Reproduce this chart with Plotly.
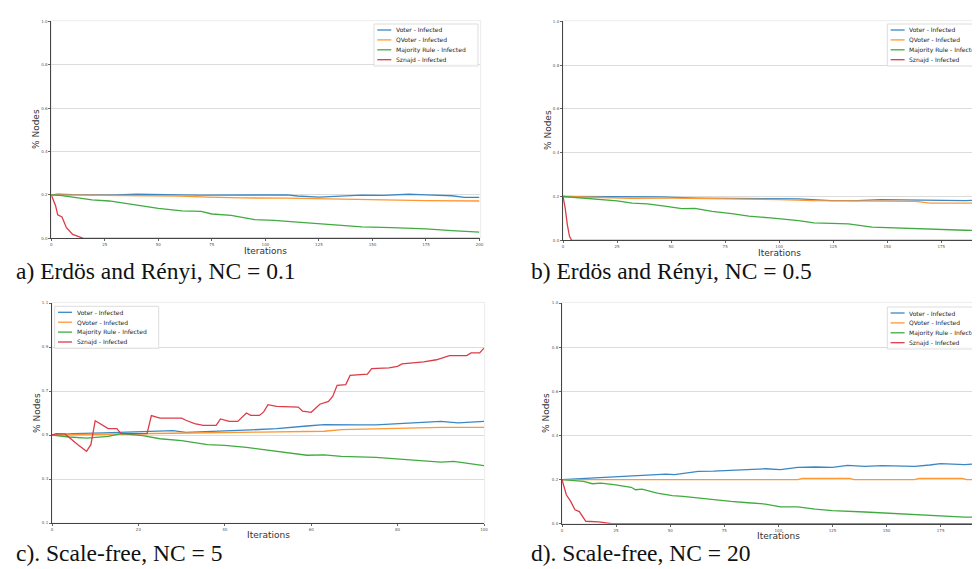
import plotly.graph_objects as go

W, H = 980, 569

SERIES = ["Voter - Infected", "QVoter - Infected", "Majority Rule - Infected", "Sznajd - Infected"]
COLORS = ["#3a87c4", "#ff9733", "#40ab40", "#dc3c48"]

# ---------------- panel a : Erdos-Renyi, NC = 0.1 ----------------
A_VOTER_X = [0, 3, 10, 20, 30, 40, 50, 60, 70, 80, 90, 100, 110, 115, 125, 135, 145, 155, 167, 175, 187, 193, 200]
A_VOTER_Y = [0.200, 0.203, 0.201, 0.199, 0.200, 0.203, 0.200, 0.200, 0.199, 0.200, 0.200, 0.199, 0.200, 0.195, 0.190, 0.194, 0.199, 0.198, 0.203, 0.200, 0.196, 0.189, 0.189]
A_QVOTER_X = [0, 20, 40, 60, 73, 89, 110, 136, 154, 175, 200]
A_QVOTER_Y = [0.200, 0.199, 0.198, 0.195, 0.190, 0.186, 0.185, 0.180, 0.175, 0.174, 0.172]
A_MAJ_X = [0, 5, 10, 19, 27, 37, 45, 50, 61, 70, 75, 84, 95, 104, 115, 128, 145, 159, 175, 187, 200]
A_MAJ_Y = [0.200, 0.197, 0.190, 0.177, 0.172, 0.156, 0.145, 0.138, 0.126, 0.124, 0.112, 0.106, 0.086, 0.083, 0.075, 0.066, 0.053, 0.049, 0.043, 0.035, 0.028]
A_SZ_X = [0, 2, 3, 5, 7, 10, 15, 200]
A_SZ_Y = [0.200, 0.150, 0.108, 0.098, 0.050, 0.018, 0.000, 0.000]

# ---------------- panel b : Erdos-Renyi, NC = 0.5 ----------------
B_VOTER_X = [0, 15, 30, 45, 62, 80, 95, 109, 124, 136, 147, 160, 170, 186, 200]
B_VOTER_Y = [0.200, 0.200, 0.201, 0.198, 0.193, 0.192, 0.191, 0.189, 0.181, 0.181, 0.186, 0.185, 0.185, 0.181, 0.186]
B_QVOTER_X = [0, 15, 32, 50, 78, 100, 116, 130, 140, 163, 170, 185, 200]
B_QVOTER_Y = [0.200, 0.196, 0.192, 0.193, 0.190, 0.186, 0.181, 0.180, 0.178, 0.178, 0.170, 0.169, 0.169]
B_MAJ_X = [0, 8, 19, 25, 32, 39, 47, 55, 61, 69, 78, 86, 96, 109, 116, 124, 132, 143, 155, 167, 178, 186, 200]
B_MAJ_Y = [0.200, 0.193, 0.186, 0.180, 0.170, 0.166, 0.156, 0.145, 0.146, 0.132, 0.122, 0.110, 0.102, 0.090, 0.080, 0.078, 0.075, 0.060, 0.056, 0.049, 0.048, 0.046, 0.044]
B_SZ_X = [0, 1, 2, 3, 4, 200]
B_SZ_Y = [0.200, 0.148, 0.072, 0.018, 0.000, 0.000]

# ---------------- panel c : Scale-free, NC = 5 ----------------
C_VOTER_X = [0, 5, 12, 21, 28, 31, 36, 40, 46, 52, 55, 59, 63, 67, 71, 75, 82, 86, 90, 94, 100]
C_VOTER_Y = [0.500, 0.506, 0.510, 0.514, 0.520, 0.512, 0.515, 0.519, 0.523, 0.529, 0.535, 0.541, 0.547, 0.548, 0.546, 0.546, 0.552, 0.556, 0.562, 0.555, 0.562]
C_QVOTER_X = [0, 13, 32, 48, 63, 67, 75, 82, 90, 100]
C_QVOTER_Y = [0.500, 0.505, 0.509, 0.513, 0.517, 0.524, 0.529, 0.531, 0.535, 0.535]
C_MAJ_X = [0, 4, 8, 13, 16, 21, 25, 30, 36, 40, 45, 49, 55, 59, 63, 67, 75, 82, 90, 93, 100]
C_MAJ_Y = [0.500, 0.491, 0.486, 0.494, 0.506, 0.497, 0.483, 0.474, 0.456, 0.453, 0.444, 0.433, 0.418, 0.408, 0.410, 0.403, 0.398, 0.388, 0.377, 0.380, 0.361]
C_SZ_X = [0, 1, 3, 5, 6, 8, 9, 10, 13, 15, 16, 22, 23, 25, 30, 31, 33, 35, 38, 39, 41, 43, 45, 46, 48, 49, 50, 52, 57, 58, 60, 62, 64, 65, 66, 68, 69, 73, 74, 78, 80, 81, 86, 89, 92, 96, 97, 99, 100]
C_SZ_Y = [0.500, 0.506, 0.505, 0.471, 0.456, 0.426, 0.456, 0.565, 0.529, 0.529, 0.506, 0.506, 0.588, 0.577, 0.577, 0.567, 0.552, 0.544, 0.544, 0.573, 0.562, 0.562, 0.600, 0.589, 0.589, 0.605, 0.638, 0.630, 0.627, 0.608, 0.603, 0.640, 0.653, 0.676, 0.726, 0.729, 0.771, 0.777, 0.802, 0.805, 0.812, 0.823, 0.832, 0.842, 0.861, 0.861, 0.873, 0.873, 0.895]

# ---------------- panel d : Scale-free, NC = 20 ----------------
D_VOTER_X = [0, 8, 17, 25, 32, 40, 48, 52, 57, 63, 70, 78, 86, 94, 101, 109, 117, 125, 132, 140, 148, 156, 163, 170, 175, 186, 197, 200]
D_VOTER_Y = [0.200, 0.204, 0.210, 0.214, 0.217, 0.220, 0.225, 0.222, 0.228, 0.237, 0.238, 0.242, 0.245, 0.249, 0.245, 0.255, 0.257, 0.255, 0.264, 0.260, 0.263, 0.262, 0.260, 0.266, 0.272, 0.268, 0.275, 0.276]
D_QVOTER_X = [0, 109, 111, 133, 135, 163, 165, 185, 187, 200]
D_QVOTER_Y = [0.200, 0.200, 0.205, 0.205, 0.200, 0.200, 0.205, 0.205, 0.200, 0.200]
D_MAJ_X = [0, 6, 10, 14, 18, 24, 32, 34, 37, 44, 51, 56, 63, 70, 78, 86, 94, 101, 109, 117, 125, 140, 155, 171, 186, 200]
D_MAJ_Y = [0.200, 0.197, 0.192, 0.181, 0.184, 0.177, 0.165, 0.154, 0.157, 0.139, 0.127, 0.124, 0.116, 0.110, 0.101, 0.095, 0.089, 0.076, 0.076, 0.066, 0.059, 0.053, 0.045, 0.038, 0.030, 0.030]
D_SZ_X = [0, 1, 2, 4, 6, 8, 9, 11, 17, 23, 200]
D_SZ_Y = [0.200, 0.160, 0.131, 0.101, 0.063, 0.055, 0.041, 0.011, 0.008, 0.000, 0.000]

# tick labels
Y_TICKS_ABD = [0.0, 0.2, 0.4, 0.6, 0.8, 1.0]
Y_TICKS_C = [0.1, 0.3, 0.5, 0.7, 0.9, 1.1]
X_TICKS_ABD = [0, 25, 50, 75, 100, 125, 150, 175, 200]
X_TICKS_C = [0, 20, 40, 60, 80, 100]

CAPTIONS = ["a) Erdös and Rényi, NC = 0.1", "b) Erdös and Rényi, NC = 0.5",
            "c). Scale-free, NC = 5", "d). Scale-free, NC = 20"]

SERIF = "Times New Roman, Liberation Serif, Tinos, serif"
SANS = "DejaVu Sans, Verdana, sans-serif"


def X(px):
    return px / W


def Y(py):
    return 1 - py / H


panels = [
    dict(data=[(A_VOTER_X, A_VOTER_Y), (A_QVOTER_X, A_QVOTER_Y), (A_MAJ_X, A_MAJ_Y), (A_SZ_X, A_SZ_Y)],
         box=(43.3, 471.5, 13.3, 230.3), frame_r=472.7, xr=[0, 200], yr=[0, 1.0], xt=X_TICKS_ABD, yt=Y_TICKS_ABD,
         leg=(366, 16), ylab=(28, 121), xlab=(257, 242.5), cap=(6, 263)),
    dict(data=[(B_VOTER_X, B_VOTER_Y), (B_QVOTER_X, B_QVOTER_Y), (B_MAJ_X, B_MAJ_Y), (B_SZ_X, B_SZ_Y)],
         box=(555, 980, 13.3, 232.3), frame_r=990, xr=[0, 196.6], yr=[0, 1.0], xt=X_TICKS_ABD, yt=Y_TICKS_ABD,
         leg=(879.3, 16), ylab=(539.3, 121.7), xlab=(771, 244.8), cap=(521, 263.5)),
    dict(data=[(C_VOTER_X, C_VOTER_Y), (C_QVOTER_X, C_QVOTER_Y), (C_MAJ_X, C_MAJ_Y), (C_SZ_X, C_SZ_Y)],
         box=(44, 476, 295, 515), frame_r=476.7, xr=[0, 100], yr=[0.1, 1.1], xt=X_TICKS_C, yt=Y_TICKS_C,
         leg=(46.7, 298.3), ylab=(29, 405), xlab=(260, 527), cap=(6, 545)),
    dict(data=[(D_VOTER_X, D_VOTER_Y), (D_QVOTER_X, D_QVOTER_Y), (D_MAJ_X, D_MAJ_Y), (D_SZ_X, D_SZ_Y)],
         box=(554, 980, 295, 515.7), frame_r=990, xr=[0, 196.9], yr=[0, 1.0], xt=X_TICKS_ABD, yt=Y_TICKS_ABD,
         leg=(879.3, 299), ylab=(538, 405), xlab=(770, 527.5), cap=(521, 545)),
]

fig = go.Figure()
shapes = []
annotations = []
layout = {}

for i, p in enumerate(panels):
    n = "" if i == 0 else str(i + 1)
    xa, ya = "x" + n, "y" + n
    x0, x1, yt_, yb_ = p["box"]
    for (xs, ys), name, col in zip(p["data"], SERIES, COLORS):
        fig.add_trace(go.Scatter(x=xs, y=ys, mode="lines", name=name, showlegend=False,
                                 line=dict(color=col, width=1.3), xaxis=xa, yaxis=ya))
    layout["xaxis" + n] = dict(domain=[X(x0), min(1.0, X(x1))], anchor=ya, range=p["xr"],
                               tickvals=p["xt"], showline=True, linecolor="#444", linewidth=1,
                               ticks="outside", ticklen=2, tickcolor="#666", tickwidth=0.8,
                               tickfont=dict(size=4, color="#555", family=SANS),
                               showgrid=False, zeroline=False)
    layout["yaxis" + n] = dict(domain=[Y(yb_), Y(yt_)], anchor=xa, range=p["yr"],
                               tickvals=p["yt"], tickformat=".1f", showline=True, linecolor="#444", linewidth=1,
                               ticks="outside", ticklen=2, tickcolor="#666", tickwidth=0.8,
                               tickfont=dict(size=4, color="#555", family=SANS),
                               showgrid=True, gridcolor="#dcdcdc", gridwidth=1, zeroline=False)
    # light frame
    shapes.append(dict(type="rect", xref="paper", yref="paper", x0=X(x0), x1=X(p["frame_r"]),
                       y0=Y(yb_), y1=Y(yt_ - 0.6), line=dict(color="#ececec", width=1), layer="below"))
    # legend box
    lx, ly = p["leg"]
    shapes.append(dict(type="rect", xref="paper", yref="paper", x0=X(lx), x1=X(lx + 104),
                       y0=Y(ly + 42), y1=Y(ly), line=dict(color="#dddddd", width=1),
                       fillcolor="rgba(255,255,255,0.85)", layer="above"))
    for k, (name, col) in enumerate(zip(SERIES, COLORS)):
        yy = ly + 6 + 9.9 * k
        shapes.append(dict(type="line", xref="paper", yref="paper", x0=X(lx + 3.3), x1=X(lx + 17.3),
                           y0=Y(yy), y1=Y(yy), line=dict(color=col, width=1.3), layer="above"))
        annotations.append(dict(text=name, xref="paper", yref="paper", x=X(lx + 20), y=Y(yy),
                                xanchor="left", yanchor="middle", showarrow=False,
                                font=dict(size=6.0, color="#262626", family=SANS)))
    # axis titles
    annotations.append(dict(text="% Nodes", xref="paper", yref="paper", x=X(p["ylab"][0]), y=Y(p["ylab"][1]),
                            textangle=-90, showarrow=False, xanchor="center", yanchor="middle",
                            font=dict(size=9, color="#333", family=SANS)))
    annotations.append(dict(text="Iterations", xref="paper", yref="paper", x=X(p["xlab"][0]), y=Y(p["xlab"][1]),
                            showarrow=False, xanchor="center", yanchor="middle",
                            font=dict(size=9, color="#333", family=SANS)))
    annotations.append(dict(text=CAPTIONS[i], xref="paper", yref="paper", x=X(p["cap"][0]), y=Y(p["cap"][1]),
                            showarrow=False, xanchor="left", yanchor="middle",
                            font=dict(size=23.5, color="#111", family=SERIF)))

fig.update_layout(width=W, height=H, margin=dict(l=0, r=0, t=0, b=0, autoexpand=False),
                  paper_bgcolor="white", plot_bgcolor="white", showlegend=False,
                  shapes=shapes, annotations=annotations, **layout)

fig.write_html("out.html")
